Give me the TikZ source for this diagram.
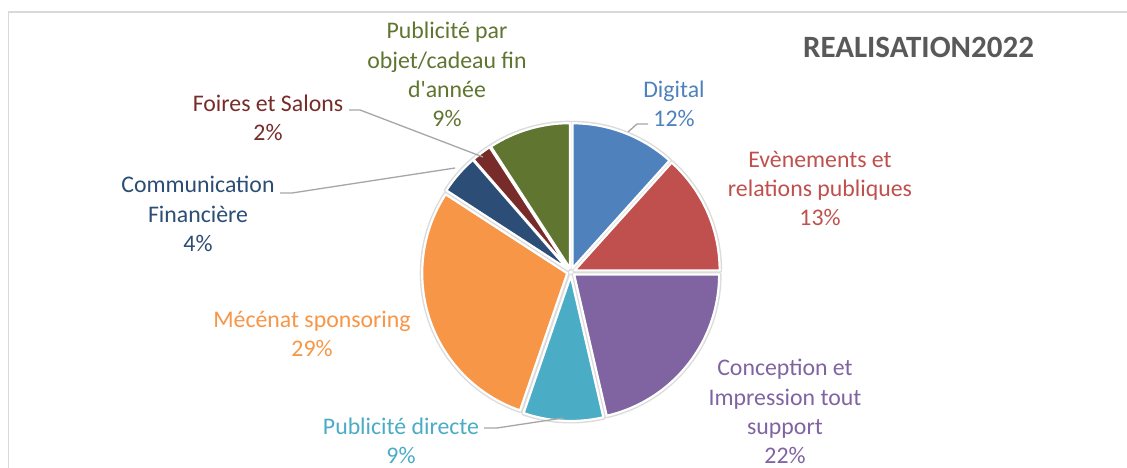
\documentclass[tikz,border=0pt]{standalone}
\usepackage{fontspec}
\setmainfont{Carlito}[Ligatures=TeXOff]
\usetikzlibrary{calc}
\definecolor{cDig}{HTML}{4F81BD}
\definecolor{cEve}{HTML}{C0504D}
\definecolor{cCon}{HTML}{8064A2}
\definecolor{cDir}{HTML}{4BACC6}
\definecolor{cMec}{HTML}{F79646}
\definecolor{cCom}{HTML}{2C4D75}
\definecolor{cFoi}{HTML}{772C2A}
\definecolor{cObj}{HTML}{5F7530}
\definecolor{leadgray}{HTML}{A6A6A6}
\definecolor{framegray}{HTML}{D9D9D9}
\definecolor{titlegray}{HTML}{595959}
\tikzset{
  lbl/.style={align=center, font=\fontsize{23.8}{29.2}\selectfont, inner sep=0pt},
  leader/.style={draw=leadgray, line width=1.3pt},
  halo/.style={draw=black!14, line width=5pt, line join=round},
  slicebox/.style={draw=white, line width=2.2pt, line join=round},
}
\newcommand\pieshape[4]{% start, end, style, color
  \pgfmathsetmacro\pmid{(#1+#2)/2}
  \path[#3, fill=#4] ($(C)+(\pmid:4pt)$) -- ++(#1:145pt) arc[start angle=#1, end angle=#2, radius=145pt] -- cycle;
}
\begin{document}
\begin{tikzpicture}[x=1pt,y=1pt]
\useasboundingbox (0,0) rectangle (1127,468);
\fill[white] (0,0) rectangle (1127,468);
% frame
\draw[framegray, line width=1.5pt] (8.5,0) -- (8.5,456) -- (1127,456);
\coordinate (C) at (571,196);
% shadows
\foreach \a/\b in {90/48, 48/0, 0/-77, -77/-109, -109/-213, -213/-229, -229/-237, -237/-270}{
  \pieshape{\a}{\b}{halo}{black!14}
}
% slices
\pieshape{90}{48}{slicebox}{cDig}
\pieshape{48}{0}{slicebox}{cEve}
\pieshape{0}{-77}{slicebox}{cCon}
\pieshape{-77}{-109}{slicebox}{cDir}
\pieshape{-109}{-213}{slicebox}{cMec}
\pieshape{-213}{-229}{slicebox}{cCom}
\pieshape{-229}{-237}{slicebox}{cFoi}
\pieshape{-237}{-270}{slicebox}{cObj}
% title
\node[font=\fontsize{31}{36}\selectfont\bfseries, text=titlegray] (title) at (918.5,421) {REALISATION2022};
% labels
\node[lbl, text=cObj] (obj) at (447,393.5) {Publicité par\\objet/cadeau fin\\d'année\\9\%};
\node[lbl, text=cDig] (dig) at (674,364.5) {Digital\\12\%};
\node[lbl, text=cEve] (eve) at (820,279.5) {Evènements et\\relations publiques\\13\%};
\node[lbl, text=cCon] (con) at (785,56.5) {Conception et\\Impression tout\\support\\22\%};
\node[lbl, text=cDir] (dir) at (401,27) {Publicité directe\\9\%};
\node[lbl, text=cMec] (mec) at (312,134) {Mécénat sponsoring\\29\%};
\node[lbl, text=cCom] (com) at (198,254) {Communication\\Financière\\4\%};
\node[lbl, text=cFoi] (foi) at (268,350) {Foires et Salons\\2\%};
% leader lines
\coordinate (digA) at (628,336);
\coordinate (digB) at (637,344);
\coordinate (digC) at (648,344);
\draw[leader] (digA) -- (digB) -- (digC);
\coordinate (foiA) at (349,358);
\coordinate (foiB) at (360,358);
\coordinate (foiC) at (483,311);
\draw[leader] (foiA) -- (foiB) -- (foiC);
\coordinate (comA) at (280,275);
\coordinate (comB) at (292,275);
\coordinate (comC) at (455,300);
\draw[leader] (comA) -- (comB) -- (comC);
\coordinate (dirA) at (484,40);
\coordinate (dirB) at (497,40);
\coordinate (dirC) at (563,50);
\draw[leader] (dirA) -- (dirB) -- (dirC);
\end{tikzpicture}
\end{document}
